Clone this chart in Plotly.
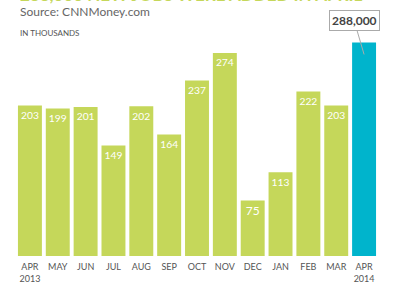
import plotly.graph_objects as go

months = ["APR<br>2013", "MAY", "JUN", "JUL", "AUG", "SEP", "OCT", "NOV", "DEC", "JAN", "FEB", "MAR", "APR<br>2014"]
jobs = [203, 199, 201, 149, 202, 164, 237, 274, 75, 113, 222, 203, 288]
labels = ["203", "199", "201", "149", "202", "164", "237", "274", "75", "113", "222", "203", ""]
colors = ["#c5d75a"] * 12 + ["#00b4cc"]

fig = go.Figure()
fig.add_trace(go.Bar(
    x=list(range(len(months))), y=jobs,
    text=labels, textposition="inside", insidetextanchor="end", textangle=0,
    textfont=dict(color="white", size=12, family="Lato"),
    marker=dict(color=colors, line=dict(width=0)),
    hoverinfo="skip",
))

fig.add_annotation(
    x=12, y=272, xref="x", yref="y",
    text="<b>288,000</b>", showarrow=True, arrowhead=0, arrowwidth=1,
    arrowcolor="#aaaaaa", ax=-10, ay=-34,
    bgcolor="white", bordercolor="#aaaaaa", borderwidth=1, borderpad=2,
    font=dict(size=12, color="#444444", family="Lato"),
)

fig.add_annotation(
    x=0, y=1.1, xref="paper", yref="paper", xanchor="left", yanchor="bottom",
    text="<b>288,000 NEW JOBS WERE ADDED IN APRIL</b>", showarrow=False,
    font=dict(size=17, color="#c5d75a", family="Lato"), xshift=2,
)
fig.add_annotation(
    x=0, y=1.08, xref="paper", yref="paper", xanchor="left", yanchor="middle",
    text="Source: CNNMoney.com", showarrow=False,
    font=dict(size=12, color="#666666", family="Lato"), xshift=2,
)
fig.add_annotation(
    x=0, y=0.985, xref="paper", yref="paper", xanchor="left", yanchor="middle",
    text="IN THOUSANDS", showarrow=False,
    font=dict(size=8, color="#555555", family="Lato"), xshift=2,
)

fig.update_layout(
    width=397, height=290,
    margin=dict(l=16, r=19, t=30, b=34),
    paper_bgcolor="white", plot_bgcolor="white",
    bargap=0.14, showlegend=False,
    xaxis=dict(tickmode="array", tickvals=list(range(len(months))), ticktext=months,
               showgrid=False, showline=False, zeroline=False, ticks="",
               ticklabelstandoff=4, automargin=False,
               tickfont=dict(size=9, color="#555555", family="Lato"),
               range=[-0.5, 12.5]),
    yaxis=dict(range=[0, 305], visible=False, automargin=False),
)

fig.write_html("out.html")
